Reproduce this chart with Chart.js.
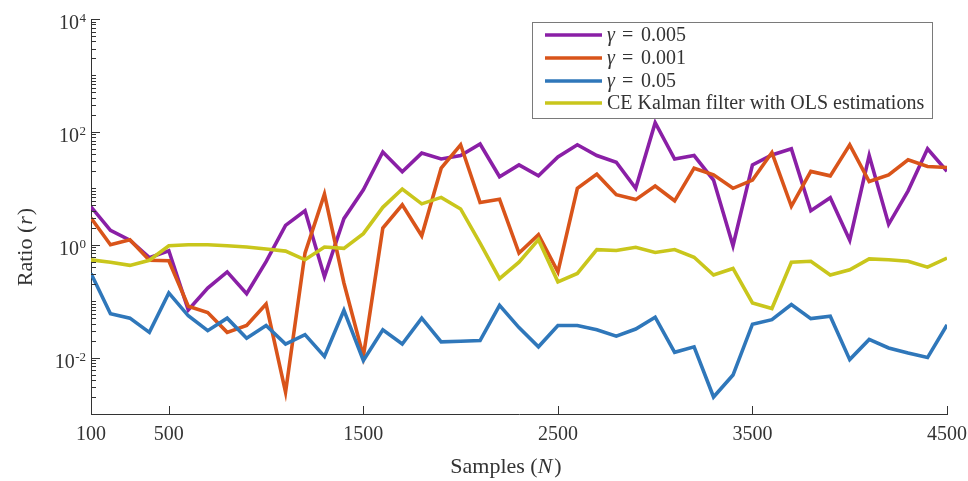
<!DOCTYPE html>
<html>
<head>
<meta charset="utf-8">
<script src="https://cdn.jsdelivr.net/npm/chart.js@4"></script>
<style>
  body { margin: 0; background: #fff; }
  #wrap { width: 968px; height: 481px; }
</style>
</head>
<body>
<div id="wrap"><canvas id="chart" width="968" height="481"></canvas></div>
<script>
// sample sizes N = 100 ... 4500
var samples = [100,200,300,400,500,600,700,800,900,1000,1100,1200,1300,1400,1500,1600,1700,1800,1900,2000,
               2100,2200,2300,2400,2500,2600,2700,2800,2900,3000,3100,3200,3300,3400,3500,3600,3700,3800,3900,4000,
               4100,4200,4300,4400,4500]

var gamma_005 = [4.7,1.8,1.2,0.59,0.78,0.07,0.17,0.33,0.135,0.5,2.2,4,0.27,2.9,9.4,44,19.6,42,33,38,
                 61,16,26,16.6,36,59,38,29,10,145,33,38,14,0.96,26,39,50,4,6.8,1.2,
                 38,2.3,9,50,20]
var gamma_001 = [2.97,1.0,1.23,0.53,0.52,0.081,0.063,0.028,0.037,0.089,0.00244,0.71,7.9,0.21,0.0105,1.97,5.1,1.44,22.7,59,
                 5.6,6.4,0.71,1.5,0.33,10,17.8,7.7,6.3,11,6,22.7,17.3,10,14,43,4.8,19.9,16.6,59,
                 13.2,17.3,32,24.3,23.4]
var gamma_05 = [0.31,0.06,0.05,0.028,0.14,0.055,0.030,0.05,0.022,0.037,0.0174,0.0255,0.0105,0.069,0.0089,0.031,0.0174,0.05,0.019,0.0195,
                0.02,0.084,0.034,0.0155,0.037,0.037,0.031,0.024,0.032,0.052,0.0124,0.0155,0.002,0.0049,0.039,0.047,0.087,0.049,0.054,0.0092,
                0.021,0.0148,0.012,0.01,0.038]
var ce_kalman = [0.54,0.49,0.43,0.53,0.96,1.0,1.0,0.96,0.91,0.84,0.77,0.54,0.91,0.86,1.57,4.6,9.7,5.3,6.9,4.3,
                 1.07,0.25,0.49,1.23,0.22,0.31,0.82,0.79,0.9,0.73,0.82,0.6,0.29,0.38,0.093,0.074,0.49,0.51,0.29,0.36,
                 0.56,0.54,0.51,0.4,0.58]

var series_names = ["0.005", "0.001", "0.05", "CE Kalman filter with OLS estimations"]
var series_colors = ["#8A1FA6", "#D9541A", "#2F77BA", "#C9C61C"]

var x_ticks = [100, 500, 1500, 2500, 3500, 4500]
var y_ticks = [1e-2, 1e0, 1e2, 1e4]
var y_tick_exp = ["-2", "0", "2", "4"]

var serif = "'Liberation Serif', 'DejaVu Serif', serif"
var textColor = "#333333"
var axisColor = "#333333"

function toPoints(vals){
    var pts = []
    for (var i = 0; i < samples.length; i++){
        pts.push({x: samples[i], y: vals[i]})
    }
    return pts
}

var allSeries = [gamma_005, gamma_001, gamma_05, ce_kalman]
var datasets = []
for (var s = 0; s < allSeries.length; s++){
    datasets.push({
        label: series_names[s],
        data: toPoints(allSeries[s]),
        borderColor: series_colors[s],
        backgroundColor: series_colors[s],
        borderWidth: 3.6,
        pointRadius: 0,
        fill: false,
        tension: 0,
        order: allSeries.length - s
    })
}

// axes decorations drawn inward like the original, plus legend and titles
var decorPlugin = {
    id: 'decor',
    afterDraw: function(chart){
        var ctx = chart.ctx
        var area = chart.chartArea
        var xs = chart.scales.x
        var ys = chart.scales.y
        ctx.save()
        ctx.strokeStyle = axisColor
        ctx.lineWidth = 1
        // y ticks: major + minor
        ctx.beginPath()
        for (var d = -3; d < 4; d++){
            for (var m = 1; m < 10; m++){
                if (d == -3 && m == 1) continue
                var v = m * Math.pow(10, d)
                var py = Math.round(ys.getPixelForValue(v)) + 0.5
                var len = (m == 1 && y_ticks.indexOf(Math.pow(10, d)) >= 0) ? 9 : 5
                ctx.moveTo(area.left, py)
                ctx.lineTo(area.left + len, py)
            }
        }
        var ptop = Math.round(ys.getPixelForValue(1e4)) + 0.5
        ctx.moveTo(area.left, ptop)
        ctx.lineTo(area.left + 9, ptop)
        // x ticks
        for (var i = 0; i < x_ticks.length; i++){
            var px = Math.round(xs.getPixelForValue(x_ticks[i])) + 0.5
            ctx.moveTo(px, area.bottom)
            ctx.lineTo(px, area.bottom - 8)
        }
        ctx.stroke()

        // y tick labels 10^k
        ctx.fillStyle = textColor
        ctx.textAlign = 'right'
        ctx.textBaseline = 'alphabetic'
        for (var j = 0; j < y_ticks.length; j++){
            var ty = ys.getPixelForValue(y_ticks[j])
            ctx.font = "13px " + serif
            var supW = ctx.measureText(y_tick_exp[j]).width
            ctx.fillText(y_tick_exp[j], 86, ty + 3)
            ctx.font = "20px " + serif
            ctx.fillText("10", 86 - supW - 0.5, ty + 10)
        }

        // x axis title: Samples (N)
        var tf = "22px " + serif, tfi = "italic 22px " + serif
        ctx.textAlign = 'left'
        var p1 = "Samples (", p3 = ")"
        ctx.font = tfi
        var wN = ctx.measureText("N").width
        ctx.font = tf
        var w1 = ctx.measureText(p1).width
        var w3 = ctx.measureText(p3).width
        var tx = 506 - (w1 + wN + w3 + 2) / 2
        var tyb = 473
        ctx.fillText(p1, tx, tyb)
        ctx.font = tfi
        ctx.fillText("N", tx + w1, tyb)
        ctx.font = tf
        ctx.fillText(p3, tx + w1 + wN + 2, tyb)

        // y axis title: Ratio (r)
        ctx.save()
        ctx.translate(32, 247)
        ctx.rotate(-Math.PI / 2)
        var q1 = "Ratio ("
        var wq1 = ctx.measureText(q1).width
        ctx.font = tfi
        var wr = ctx.measureText("r").width
        ctx.font = tf
        var wq3 = ctx.measureText(")").width
        var sx = -(wq1 + wr + wq3 + 2) / 2
        ctx.fillText(q1, sx, 0)
        ctx.font = tfi
        ctx.fillText("r", sx + wq1 + 1, 0)
        ctx.font = tf
        ctx.fillText(")", sx + wq1 + wr + 2, 0)
        ctx.restore()

        // legend
        var lx = 532.5, ly = 22.5, lw = 400, lh = 96
        ctx.fillStyle = '#ffffff'
        ctx.fillRect(lx, ly, lw, lh)
        ctx.strokeStyle = '#7a7a7a'
        ctx.lineWidth = 1
        ctx.strokeRect(lx, ly, lw, lh)
        var rows = [35, 58, 81, 103]
        var ds = chart.data.datasets
        for (var k = 0; k < ds.length; k++){
            ctx.strokeStyle = ds[k].borderColor
            ctx.lineWidth = 3.6
            ctx.beginPath()
            ctx.moveTo(545, rows[k])
            ctx.lineTo(602, rows[k])
            ctx.stroke()
            ctx.fillStyle = textColor
            ctx.textBaseline = 'middle'
            if (k < 3){
                ctx.font = "italic 20px " + serif
                ctx.fillText("\u03B3", 607, rows[k] + 1)
                ctx.font = "20px " + serif
                ctx.fillText("=", 622, rows[k] + 1)
                ctx.fillText(ds[k].label, 641, rows[k] + 1)
            } else {
                ctx.font = "20px " + serif
                ctx.fillText(ds[k].label, 607, rows[k] + 1)
            }
        }
        ctx.restore()
    }
}

new Chart(document.getElementById('chart').getContext('2d'), {
    type: 'line',
    data: { datasets: datasets },
    options: {
        responsive: false,
        animation: false,
        devicePixelRatio: 1,
        layout: { padding: { left: 0, right: 21, top: 19, bottom: 0 } },
        plugins: { legend: { display: false }, tooltip: { enabled: false } },
        scales: {
            x: {
                type: 'linear',
                min: 100,
                max: 4500,
                afterBuildTicks: function(scale){
                    scale.ticks = x_ticks.map(function(v){ return {value: v} })
                },
                afterFit: function(scale){
                    scale.height = 67
                    scale.paddingLeft = 0
                    scale.paddingRight = 0
                },
                ticks: {
                    color: textColor,
                    font: { family: serif, size: 20 },
                    padding: 9,
                    maxRotation: 0,
                    autoSkip: false,
                    callback: function(v){ return String(v) }
                },
                grid: { display: false, drawTicks: false },
                border: { display: true, color: axisColor, width: 1 }
            },
            y: {
                type: 'logarithmic',
                min: 1e-3,
                max: 1e4,
                afterBuildTicks: function(scale){
                    scale.ticks = y_ticks.map(function(v){ return {value: v} })
                },
                afterFit: function(scale){
                    scale.width = 91
                    scale.paddingTop = 0
                    scale.paddingBottom = 0
                },
                ticks: { display: false },
                grid: { display: false, drawTicks: false },
                border: { display: true, color: axisColor, width: 1 }
            }
        }
    },
    plugins: [decorPlugin]
})
</script>
</body>
</html>
